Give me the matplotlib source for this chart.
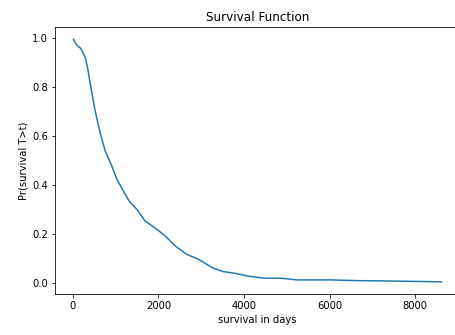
import matplotlib
matplotlib.use("Agg")
import matplotlib.pyplot as plt

days = [16, 93, 187, 288, 342, 443, 521, 638, 755, 910, 1027, 1221, 1338, 1494,
        1688, 1961, 2155, 2388, 2661, 2933, 3283, 3516, 3827, 4078, 4468, 4858,
        5248, 6028, 6652, 7198, 7978, 8618]
survival = [0.997, 0.973, 0.959, 0.925, 0.884, 0.781, 0.705, 0.616, 0.541, 0.479,
            0.425, 0.363, 0.329, 0.301, 0.253, 0.219, 0.192, 0.151, 0.116, 0.096,
            0.059, 0.045, 0.037, 0.027, 0.018, 0.018, 0.011, 0.011, 0.008, 0.007,
            0.005, 0.003]

fig = plt.figure(figsize=(455/72, 335/72), dpi=72)
ax = fig.add_axes([55/455, (335-294)/335, (460-55)/455, (294-27)/335])
ax.plot(days, survival, color="#1f77b4", lw=1.5)
ax.set_title("Survival Function")
ax.set_xlabel("survival in days")
ax.set_ylabel("Pr(survival T>t)")
ax.set_xticks([0, 2000, 4000, 6000, 8000])
ax.set_yticks([0.0, 0.2, 0.4, 0.6, 0.8, 1.0])
fig.savefig("out.png", dpi=72)
